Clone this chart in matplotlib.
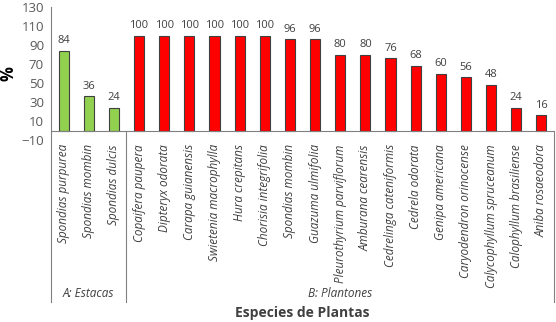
import matplotlib.pyplot as plt
import matplotlib.transforms as mtransforms
import numpy as np

plt.rcParams['font.family'] = ['Open Sans', 'DejaVu Sans']

especies = ['Spondias purpurea', 'Spondias mombin', 'Spondias dulcis',
            'Copaifera paupera', 'Dipteryx odorata', 'Carapa guianensis',
            'Swietenia macrophylla', 'Hura crepitans', 'Chorisia integrifolia',
            'Spondias mombin', 'Guazuma ulmifolia', 'Pleurothyrium parviflorum',
            'Amburana cearensis', 'Cedrelinga cateniformis', 'Cedrela odorata',
            'Genipa americana', 'Caryodendron orinocense', 'Calycophyllum spruceanum',
            'Calophyllum brasiliense', 'Aniba rosaeodora']
valores = [84, 36, 24, 100, 100, 100, 100, 100, 100, 96, 96, 80, 80, 76, 68,
           60, 56, 48, 24, 16]
grupos = ['A: Estacas'] * 3 + ['B: Plantones'] * 17

n_a = grupos.count('A: Estacas')
x = np.arange(len(especies))
colores = ['#92D050' if g.startswith('A') else '#FF0000' for g in grupos]

fig = plt.figure(figsize=(5.56, 3.22), dpi=100)
ax = fig.add_axes([51/556, 182/322, 503/556, 133/322])

ax.bar(x, valores, width=0.4, color=colores, edgecolor='#404040', linewidth=0.8)
for xi, v in zip(x, valores):
    ax.text(xi, v + 5, str(v), ha='center', va='bottom', fontsize=8, color='#404040')

ax.set_xlim(-0.5, len(especies) - 0.5)
ax.set_ylim(-10, 130)
ax.set_yticks(np.arange(-10, 131, 20))
ax.tick_params(axis='y', length=0, labelsize=9.5, labelcolor='#595959', pad=5)
ax.set_xticks(x)
ax.set_xticklabels(especies, rotation=90, style='italic', fontsize=8.5, color='#404040')
ax.tick_params(axis='x', length=0, pad=3)
for s in ['top', 'right', 'bottom', 'left']:
    ax.spines[s].set_visible(False)
ax.axhline(0, color='#808080', linewidth=0.8)
ax.set_ylabel('%', fontsize=12, fontweight='bold', labelpad=3)

# separadores de grupo
tr = mtransforms.blended_transform_factory(ax.transData, ax.transAxes)
y_bot = -(302 - 140) / 133
ax.plot([-0.5, -0.5], [1, y_bot], transform=tr, color='#808080', lw=0.8, clip_on=False)
for xs in [n_a - 0.5, len(especies) - 0.5]:
    ax.plot([xs, xs], [10 / 140, y_bot], transform=tr, color='#808080', lw=0.8, clip_on=False)

y_grp = -(294 - 140) / 133
ax.text((n_a - 1) / 2, y_grp, 'A: Estacas', transform=tr, ha='center', va='center',
        fontsize=8.5, style='italic', color='#404040')
ax.text((n_a + len(especies) - 1) / 2, y_grp, 'B: Plantones', transform=tr, ha='center',
        va='center', fontsize=8.5, style='italic', color='#404040')
ax.text(0.5, -(313 - 140) / 133, 'Especies de Plantas', transform=ax.transAxes,
        ha='center', va='center', fontsize=10, fontweight='bold', color='#404040')

fig.savefig('out.png', dpi=100)
